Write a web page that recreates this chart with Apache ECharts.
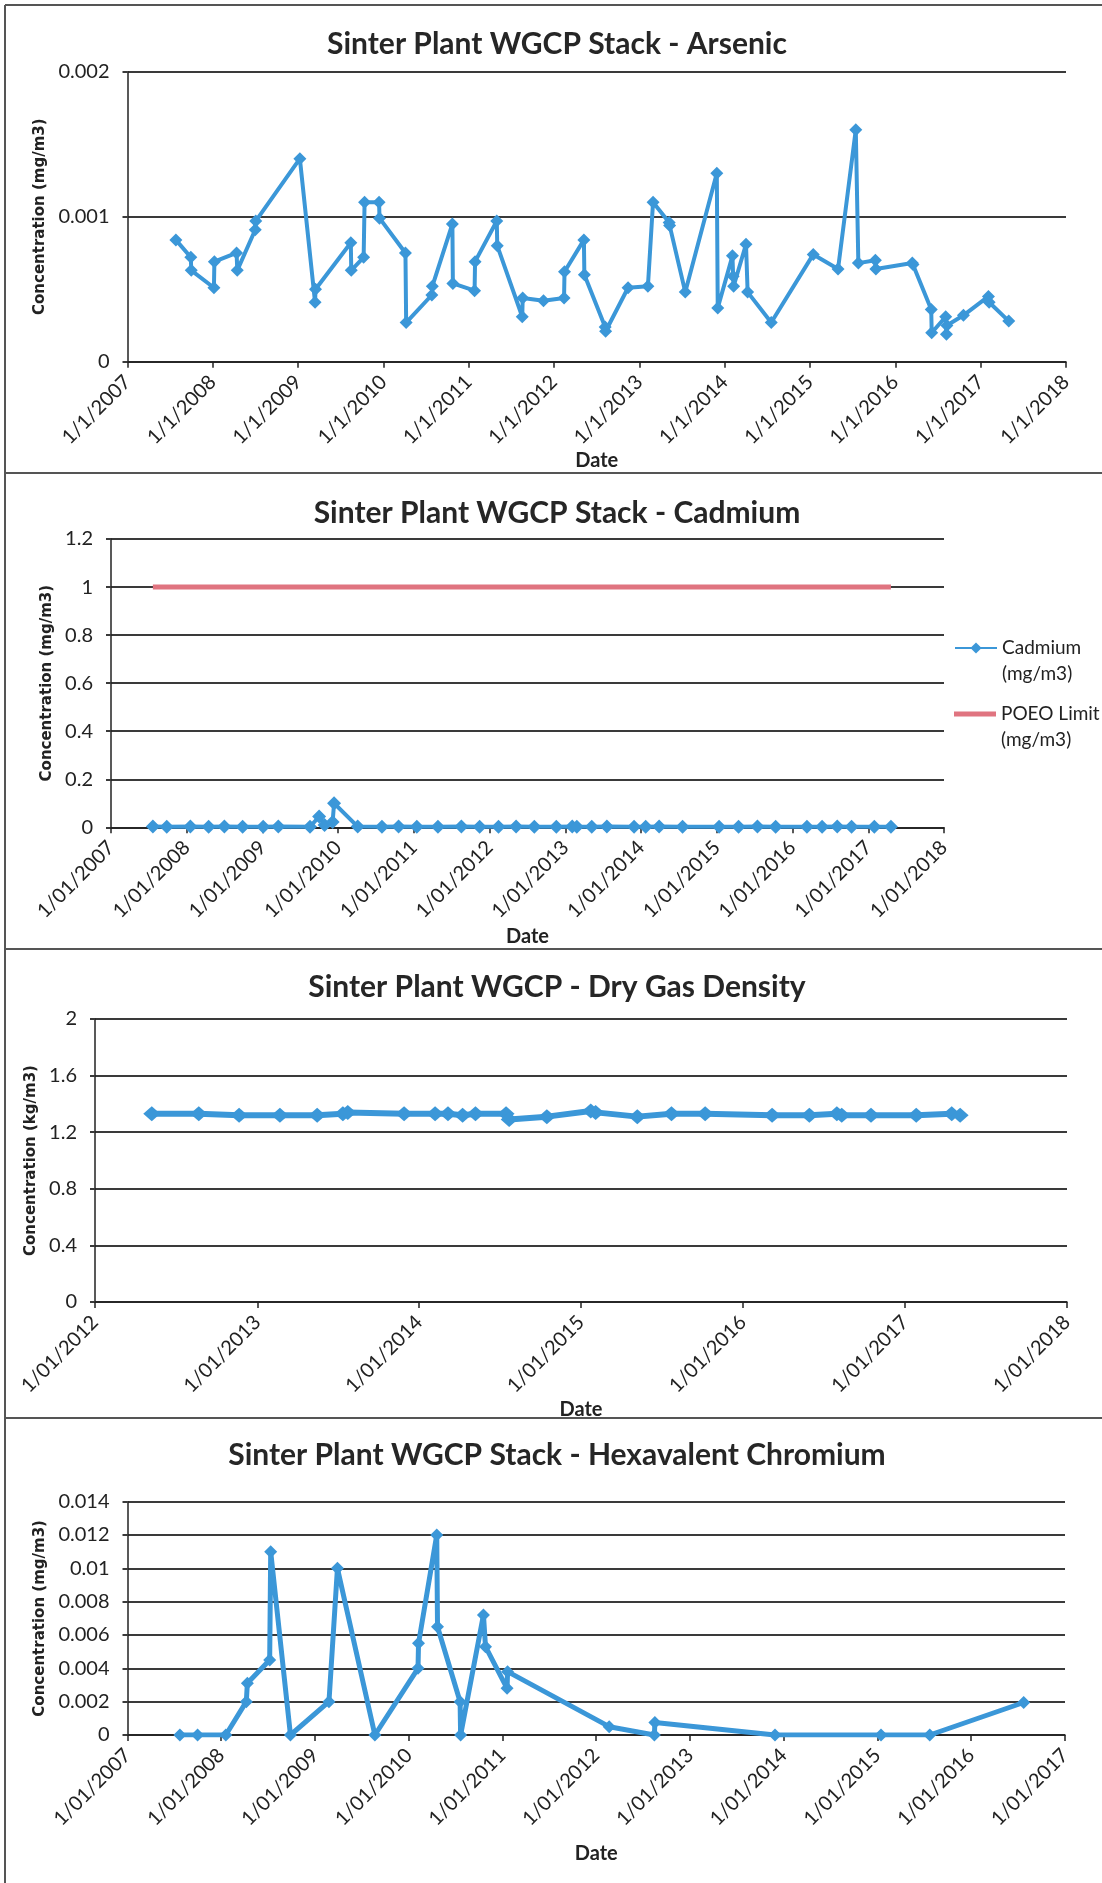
<!DOCTYPE html>
<html>
<head>
<meta charset="utf-8">
<script src="https://cdn.jsdelivr.net/npm/echarts@6/dist/echarts.min.js"></script>
<style>
  html, body { margin: 0; padding: 0; background: #fff; }
  #chart { position: absolute; left: 0; top: 0; width: 1102px; height: 1883px; }
  .hl { position: absolute; left: 5px; width: 1097px; height: 2px; background: #555; }
  .vl { position: absolute; top: 5px; left: 4px; width: 2px; height: 1878px; background: #555; }
</style>
</head>
<body>
<div id="chart"></div>
<div class="hl" style="top:4px"></div>
<div class="hl" style="top:472px"></div>
<div class="hl" style="top:948px"></div>
<div class="hl" style="top:1417px"></div>
<div class="vl"></div>
<script>
// ---------- Arsenic ----------
const arsenicDates = [
  '2007-07-27','2007-09-29','2007-10-01','2008-01-06','2008-01-08','2008-04-12','2008-04-15','2008-07-01','2008-07-03','2009-01-08',
  '2009-03-14','2009-03-16','2009-08-14','2009-08-16','2009-10-08','2009-10-12','2009-12-13','2009-12-15','2010-04-05','2010-04-08',
  '2010-07-27','2010-07-29','2010-10-23','2010-10-25','2011-01-26','2011-01-28','2011-05-01','2011-05-03','2011-08-18','2011-08-20',
  '2011-11-17','2012-02-13','2012-02-15','2012-05-08','2012-05-10','2012-08-07','2012-08-09','2012-11-13','2013-02-06','2013-02-28',
  '2013-05-08','2013-05-10','2013-07-16','2013-11-28','2013-12-02','2014-02-03','2014-02-06','2014-02-08','2014-04-02','2014-04-09',
  '2014-07-19','2015-01-15','2015-05-01','2015-07-16','2015-07-27','2015-10-08','2015-10-10','2016-03-14','2016-03-17','2016-06-03',
  '2016-06-05','2016-08-04','2016-08-07','2016-08-09','2016-10-19','2017-02-03','2017-02-06','2017-05-01'
];
const arsenicValues = [
  0.00084,0.00072,0.00063,0.00051,0.00069,0.00075,0.00063,0.00091,0.00097,0.00140,
  0.00041,0.00050,0.00082,0.00063,0.00072,0.00110,0.00110,0.00099,0.00075,0.00027,
  0.00046,0.00052,0.00095,0.00054,0.00049,0.00069,0.00097,0.00080,0.00031,0.00044,
  0.00042,0.00044,0.00062,0.00084,0.00060,0.00024,0.00021,0.00051,0.00052,0.00110,
  0.00096,0.00094,0.00048,0.00130,0.00037,0.00073,0.00059,0.00052,0.00081,0.00048,
  0.00027,0.00074,0.00064,0.00160,0.00068,0.00070,0.00064,0.00068,0.00067,0.00036,
  0.00020,0.00031,0.00019,0.00025,0.00032,0.00045,0.00041,0.00028
];

// ---------- Cadmium ----------
const cadmiumDates = [
  '2007-07-22','2007-09-27','2008-01-19','2008-04-16','2008-07-01','2008-09-27','2009-01-04','2009-03-18','2009-08-18','2009-10-01',
  '2009-10-27','2009-12-05','2009-12-12','2010-04-05','2010-07-31','2010-10-19','2011-01-15','2011-04-27','2011-08-18','2011-11-14',
  '2012-02-13','2012-05-08','2012-08-04','2012-11-18','2013-02-03','2013-02-25','2013-05-08','2013-07-20','2013-11-28','2014-01-23',
  '2014-03-29','2014-07-20','2015-01-12','2015-04-16','2015-07-16','2015-10-12','2016-03-11','2016-05-23','2016-08-04','2016-10-12',
  '2017-01-30','2017-04-20'
];
const cadmiumValues = [
  0.003,0.002,0.003,0.002,0.003,0.002,0.002,0.003,0.002,0.045,
  0.010,0.022,0.100,0.003,0.002,0.003,0.002,0.002,0.003,0.002,
  0.002,0.003,0.002,0.002,0.003,0.002,0.002,0.003,0.002,0.002,
  0.003,0.002,0.002,0.002,0.003,0.002,0.002,0.002,0.003,0.002,
  0.002,0.002
];
const poeoDates = ['2007-07-22','2017-04-20'];
const poeoValues = [1, 1];

// ---------- Dry gas density ----------
const densityDates = [
  '2012-05-08','2012-08-22','2012-11-21','2013-02-21','2013-05-16','2013-07-13','2013-07-24','2013-11-28','2014-02-06','2014-03-07',
  '2014-04-09','2014-05-08','2014-07-16','2014-07-23','2014-10-16','2015-01-23','2015-02-03','2015-05-08','2015-07-24','2015-10-08',
  '2016-03-07','2016-05-30','2016-07-31','2016-08-11','2016-10-16','2017-01-26','2017-04-16','2017-05-05'
];
const densityValues = [
  1.33,1.33,1.32,1.32,1.32,1.33,1.34,1.33,1.33,1.33,
  1.32,1.33,1.33,1.29,1.31,1.35,1.34,1.31,1.33,1.33,
  1.32,1.32,1.33,1.32,1.32,1.32,1.33,1.32
];

// ---------- Hexavalent chromium ----------
const chromiumDates = [
  '2007-07-24','2007-10-01','2008-01-19','2008-04-08','2008-04-12','2008-07-08','2008-07-12','2008-09-27','2009-02-24','2009-03-29',
  '2009-08-22','2010-02-06','2010-02-08','2010-04-20','2010-04-23','2010-07-20','2010-07-22','2010-10-19','2010-10-27','2011-01-19',
  '2011-01-21','2012-02-21','2012-08-15','2012-08-17','2013-11-28','2015-01-15','2015-07-24','2016-07-24'
];
const chromiumValues = [
  0,0,0,0.0020,0.0031,0.0045,0.0110,0,0.0020,0.0100,
  0,0.0040,0.0055,0.0120,0.0065,0.0020,0,0.0072,0.0053,0.0028,
  0.0038,0.0005,0,0.00075,0,0,0,0.00195
];

const BLUE = '#3B97D8';
const PINK = '#E07480';
const FONT = 'Lato';
const NAMEFONT = 'DejaVu Sans';
const YEAR = 365 * 24 * 3600 * 1000;

function zip(d, v) { return d.map((x, i) => [x, v[i]]); }
function fmtShort(val) { const d = new Date(val); return d.getDate() + '/' + (d.getMonth() + 1) + '/' + d.getFullYear(); }
function fmtLong(val) { const d = new Date(val); const m = d.getMonth() + 1; return d.getDate() + '/' + (m < 10 ? '0' + m : m) + '/' + d.getFullYear(); }

const grids = [
  { left: 127.5, top: 71.7, width: 938.5, height: 290 },
  { left: 111, top: 539, width: 833, height: 288.3 },
  { left: 95, top: 1019, width: 972, height: 283 },
  { left: 127.5, top: 1501.7, width: 937.5, height: 233.3 }
];

function xAxis(i, min, max, fmt, nameGap) {
  return {
    type: 'time', gridIndex: i, min: min, max: max,
    minInterval: YEAR, maxInterval: YEAR + 24 * 3600 * 1000,
    name: 'Date', nameLocation: 'middle', nameGap: nameGap,
    nameTextStyle: { fontFamily: FONT, fontWeight: 'bold', fontSize: 20, color: '#222' },
    axisLine: { show: true, lineStyle: { color: '#222', width: 1.5 } },
    axisTick: { show: true, length: 6, lineStyle: { color: '#222', width: 1.5 } },
    splitLine: { show: false },
    axisLabel: { rotate: 45, margin: 17, interval: 0, fontFamily: FONT, fontSize: 20, color: '#222',
                 formatter: fmt, showMinLabel: true, showMaxLabel: true }
  };
}
function yAxis(i, max, interval, nameGap) {
  return {
    type: 'value', gridIndex: i, min: 0, max: max, interval: interval,
    name: i === 2 ? 'Concentration (kg/m3)' : 'Concentration (mg/m3)',
    nameLocation: 'middle', nameGap: nameGap,
    nameTextStyle: { fontFamily: NAMEFONT, fontWeight: 'bold', fontSize: 15, color: '#222' },
    axisLine: { show: true, lineStyle: { color: '#222', width: 1.5 } },
    axisTick: { show: true, length: 5, lineStyle: { color: '#3a3a3a', width: 2 } },
    splitLine: { show: true, lineStyle: { color: '#3a3a3a', width: 2 } },
    axisLabel: { margin: 18, fontFamily: FONT, fontSize: 20, color: '#222' }
  };
}
function title(text, cy) {
  return { text: text, left: 557, top: cy - 18, textAlign: 'center', padding: 0,
           textStyle: { fontFamily: FONT, fontWeight: 'bold', fontSize: 30, lineHeight: 36, color: '#262626' } };
}
function lineSeries(name, i, data, lw, size) {
  return { name: name, type: 'line', xAxisIndex: i, yAxisIndex: i, data: data,
           symbol: 'diamond', symbolSize: size, showSymbol: true,
           lineStyle: { color: BLUE, width: lw }, itemStyle: { color: BLUE }, z: 3 };
}
function legend(name, cy, icon, h) {
  return { data: [{ name: name, icon: icon }], orient: 'vertical', left: 954, top: cy - 39, padding: 0,
           itemWidth: 42, itemHeight: h,
           formatter: n => ' \n' + n,
           textStyle: { fontFamily: FONT, fontSize: 19, lineHeight: 26, color: '#222' } };
}

const chart = echarts.init(document.getElementById('chart'), null, { renderer: 'canvas' });
chart.setOption({
  animation: false,
  backgroundColor: 'transparent',
  title: [
    title('Sinter Plant WGCP Stack - Arsenic', 44),
    title('Sinter Plant WGCP Stack - Cadmium', 513),
    title('Sinter Plant WGCP - Dry Gas Density', 987),
    title('Sinter Plant WGCP Stack - Hexavalent Chromium', 1455)
  ],
  legend: [
    legend('Cadmium\n(mg/m3)', 648, undefined, 14),
    legend('POEO Limit\n(mg/m3)', 714, 'rect', 5)
  ],
  grid: grids,
  xAxis: [
    xAxis(0, '2007-01-01', '2018-01-01', fmtShort, 86),
    xAxis(1, '2007-01-01', '2018-01-01', fmtLong, 99),
    xAxis(2, '2012-01-01', '2018-01-01', fmtLong, 92),
    xAxis(3, '2007-01-01', '2017-01-01', fmtLong, 109)
  ],
  yAxis: [
    yAxis(0, 0.002, 0.001, 68),
    yAxis(1, 1.2, 0.2, 48),
    yAxis(2, 2, 0.4, 48),
    yAxis(3, 0.014, 0.002, 68)
  ],
  series: [
    lineSeries('Arsenic (mg/m3)', 0, zip(arsenicDates, arsenicValues), 4, 13),
    lineSeries('Cadmium\n(mg/m3)', 1, zip(cadmiumDates, cadmiumValues), 4, 14),
    { name: 'POEO Limit\n(mg/m3)', type: 'line', xAxisIndex: 1, yAxisIndex: 1,
      data: zip(poeoDates, poeoValues), symbol: 'none',
      lineStyle: { color: PINK, width: 5 }, itemStyle: { color: PINK }, z: 2 },
    lineSeries('Dry Gas Density (kg/m3)', 2, zip(densityDates, densityValues), 6, [17, 15]),
    lineSeries('Hexavalent Chromium (mg/m3)', 3, zip(chromiumDates, chromiumValues), 5, 13)
  ]
});
</script>
</body>
</html>
